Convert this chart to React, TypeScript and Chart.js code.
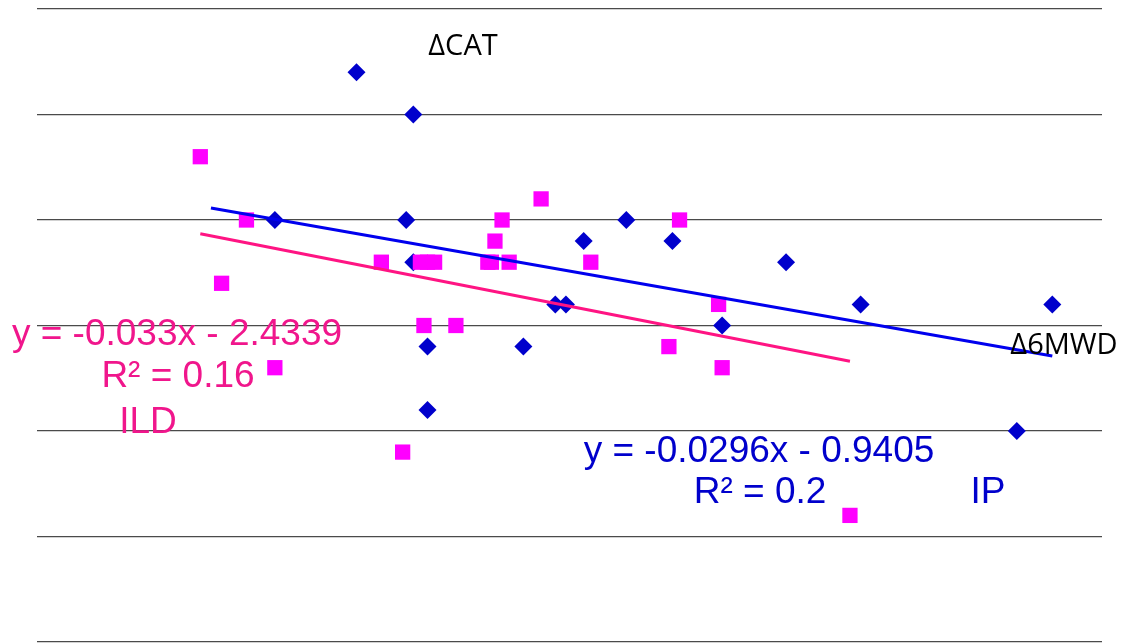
import React, { useEffect, useRef } from "react";
import { Chart, registerables } from "chart.js";

Chart.register(...registerables);

// IP series (blue diamonds): Δ6MWD (x) vs ΔCAT (y)
const ipX = [-10, 6, -33, 4, 6, 10, 10, 37, 46, 49, 54, 66, 79, 93, 111, 132, 176, 186];
const ipY = [7, 5, 0, 0, -2, -6, -9, -6, -4, -4, -1, 0, -1, -5, -2, -4, -10, -4];

// ILD series (pink squares)
const ildX = [-54, -41, -48, -33, -3, 3, 8, 10, 12, 9, 18, 27, 28, 29, 31, 33, 42, 56, 78, 81, 92, 93, 129];
const ildY = [3, 0, -3, -7, -2, -11, -2, -2, -2, -5, -5, -2, -2, -1, 0, -2, 1, -2, -6, 0, -4, -7, -14];

// Trendlines as printed on the chart
const ipSlope = -0.0296;
const ipIntercept = -0.9405;
const ipLineX = [-51, 186];
const ildSlope = -0.033;
const ildIntercept = -2.4339;
const ildLineX = [-54, 129];

const yTicks = [-20, -15, -10, -5, 0, 5, 10];
const xRange = [-100, 200];

const BLUE = "#0000CC";
const BLUE_LINE = "#0000EE";
const PINK_PT = "#FF00FF";
const PINK_LINE = "#FF1483";
const PINK_TXT = "#F0168C";

export default function App() {
  const ref = useRef<HTMLCanvasElement | null>(null);

  useEffect(() => {
    if (!ref.current) return;
    const labelsPlugin = {
      id: "labels",
      afterDraw(chart: any) {
        const ctx = chart.ctx;
        ctx.save();
        ctx.textBaseline = "alphabetic";
        ctx.textAlign = "center";
        // axis titles
        ctx.fillStyle = "#000000";
        ctx.font = '29px "Open Sans"';
        ctx.fillText("\u0394CAT", 463, 55);
        ctx.fillText("\u03946MWD", 1064, 354);
        // ILD equation
        ctx.fillStyle = PINK_TXT;
        ctx.font = '37px "Liberation Sans"';
        ctx.fillText("y = -0.033x - 2.4339", 177, 345);
        ctx.fillText("R\u00B2 = 0.16", 178, 387);
        ctx.fillText("ILD", 148, 433);
        // IP equation
        ctx.fillStyle = BLUE;
        ctx.fillText("y = -0.0296x - 0.9405", 759, 462);
        ctx.fillText("R\u00B2 = 0.2", 760, 503);
        ctx.fillText("IP", 988, 503);
        ctx.restore();
      },
    };

    const chart = new Chart(ref.current, {
      type: "scatter",
      data: {
        datasets: [
          {
            type: "line",
            label: "IP trend",
            data: ipLineX.map((x) => ({ x, y: ipSlope * x + ipIntercept })),
            borderColor: BLUE_LINE,
            borderWidth: 3,
            pointRadius: 0,
            showLine: true,
            fill: false,
          },
          {
            type: "line",
            label: "ILD trend",
            data: ildLineX.map((x) => ({ x, y: ildSlope * x + ildIntercept })),
            borderColor: PINK_LINE,
            borderWidth: 3,
            pointRadius: 0,
            showLine: true,
            fill: false,
          },
          {
            label: "ILD",
            data: ildX.map((x, i) => ({ x, y: ildY[i] })),
            pointStyle: "rect",
            pointRadius: 10.8,
            pointBackgroundColor: PINK_PT,
            pointBorderWidth: 0,
            borderWidth: 0,
          },
          {
            label: "IP",
            data: ipX.map((x, i) => ({ x, y: ipY[i] })),
            pointStyle: "rectRot",
            pointRadius: 9,
            pointBackgroundColor: BLUE,
            pointBorderWidth: 0,
            borderWidth: 0,
          },
        ],
      },
      options: {
        animation: false,
        responsive: false,
        layout: { autoPadding: false, padding: { left: 37, right: 27, top: 9, bottom: 2 } },
        plugins: {
          legend: { display: false },
          tooltip: { enabled: false },
        },
        scales: {
          x: {
            type: "linear",
            display: false,
            min: xRange[0],
            max: xRange[1],
          },
          y: {
            type: "linear",
            min: yTicks[0],
            max: yTicks[yTicks.length - 1],
            afterBuildTicks: (axis: any) => {
              axis.ticks = yTicks.map((v) => ({ value: v }));
            },
            ticks: { display: false },
            border: { display: false },
            grid: { color: "#4a4a4a", lineWidth: 1.3, drawTicks: false },
          },
        },
      },
      plugins: [labelsPlugin],
    });
    return () => chart.destroy();
  }, []);

  return (
    <div style={{ position: "absolute", left: 0, top: 0, width: 1129, height: 644, background: "#fff" }}>
      <canvas ref={ref} width={1129} height={644} style={{ display: "block" }} />
    </div>
  );
}
